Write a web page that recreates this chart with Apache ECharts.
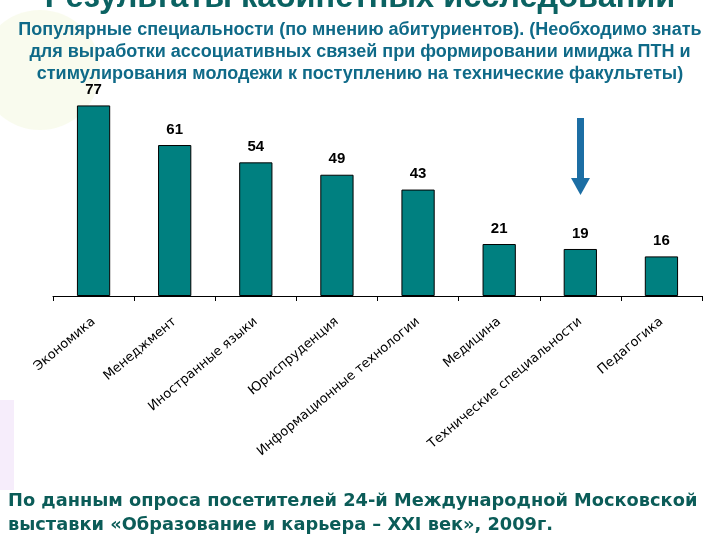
<!DOCTYPE html>
<html><head><meta charset="utf-8">
<script src="https://cdn.jsdelivr.net/npm/echarts@6/dist/echarts.min.js"></script>
<style>html,body{margin:0;padding:0;background:#fff}#c{width:720px;height:540px}</style>
</head><body><div id="c"></div>
<script>
const categories = ['Экономика','Менеджмент','Иностранные языки','Юриспруденция','Информационные технологии','Медицина','Технические специальности','Педагогика'];
const values = [77, 61, 54, 49, 43, 21, 19, 16];
const titleText = 'Результаты кабинетных исследований';
const subtitleLines = ['Популярные специальности (по мнению абитуриентов). (Необходимо знать','для выработки ассоциативных связей при формировании имиджа ПТН и','стимулирования молодежи к поступлению на технические факультеты)'];
const footerLines = ['По данным опроса посетителей 24-й Международной Московской','выставки «Образование и карьера – XXI век», 2009г.'];

const chart = echarts.init(document.getElementById('c'));
const graphics = [
  {type:'circle', shape:{cx:40,cy:70,r:60}, style:{fill:'rgba(235,242,200,0.3)'}, silent:true, z:-10},
  {type:'rect', shape:{x:0,y:400,width:14,height:90}, style:{fill:'rgba(240,225,248,0.6)'}, silent:true, z:-10},
  {type:'text', left:'center', top:-18, style:{text:titleText, font:'bold 32.5px "Liberation Sans", Arial', fill:'#0b6262'}},
];
subtitleLines.forEach((t,i)=>graphics.push({type:'text', left:'center', top:21+i*22, style:{text:t, font:'bold 18px "Liberation Sans", Arial', fill:'#0f6a88'}}));
footerLines.forEach((t,i)=>graphics.push({type:'text', left:8, top:492+i*24, style:{text:t, font:'bold 17.8px "DejaVu Sans", Verdana', fill:'#0b5c58'}}));
// arrow annotation
graphics.push({type:'rect', shape:{x:577,y:118,width:7,height:62}, style:{fill:'#1c6ea4'}});
graphics.push({type:'polygon', shape:{points:[[571,178],[590,178],[580.5,195]]}, style:{fill:'#1c6ea4'}});

chart.setOption({
  animation:false,
  grid:{left:53,right:18,top:98,bottom:244,containLabel:false},
  xAxis:{type:'category', data:categories,
    axisLine:{lineStyle:{color:'#000',width:1}},
    axisTick:{show:true,length:5,lineStyle:{color:'#000'}},
    axisLabel:{rotate:40, interval:0, color:'#000', fontSize:13, fontFamily:'DejaVu Sans', margin:24}
  },
  yAxis:{type:'value', min:0, max:80, show:false},
  series:[{type:'bar', data:values, barWidth:'41%',
    itemStyle:{color:'#008080', borderColor:'#000', borderWidth:1},
    label:{show:true, position:'top', distance:8, color:'#000', fontWeight:'bold', fontSize:15, fontFamily:'Liberation Sans'}
  }],
  graphic:graphics
});
</script></body></html>
